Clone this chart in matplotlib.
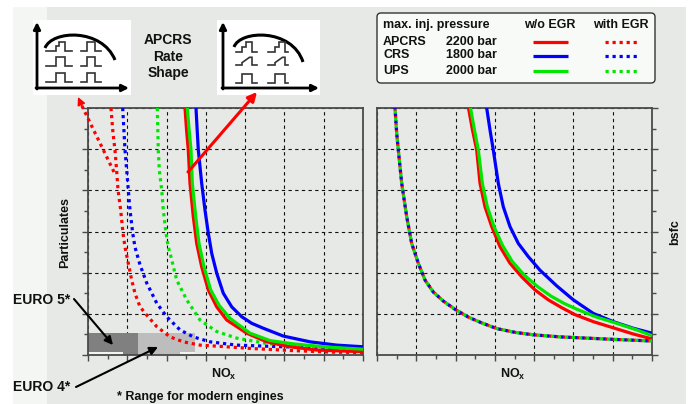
import matplotlib
matplotlib.use('Agg')
import matplotlib.pyplot as plt
from matplotlib.patches import Rectangle, FancyBboxPatch, PathPatch
from matplotlib.path import Path
import numpy as np

plt.rcParams['font.family'] = ['Liberation Sans', 'DejaVu Sans']
plt.rcParams['mathtext.fontset'] = 'custom'
plt.rcParams['mathtext.rm'] = 'Liberation Sans'
plt.rcParams['mathtext.bf'] = 'Liberation Sans:bold'
plt.rcParams['mathtext.it'] = 'Liberation Sans:italic'

# ---------------- data (grid units: NOx 0..7, response 0..6) ----------------
systems = ['APCRS', 'CRS', 'UPS']
pressures = ['2200 bar', '1800 bar', '2000 bar']
colors = ['#ff0000', '#0000ff', '#00e600']

# Particulates vs NOx, without EGR (solid)
pm_apcrs_x = [2.469, 2.51, 2.553, 2.596, 2.680, 2.767, 2.894, 3.062, 3.276, 3.531, 4.040, 4.549, 5.142, 5.821, 7.0]
pm_apcrs_y = [6.0, 5.45, 4.98, 4.17, 3.36, 2.71, 2.14, 1.58, 1.17, 0.85, 0.53, 0.32, 0.20, 0.12, 0.08]
pm_crs_x = [2.749, 2.78, 2.808, 2.894, 2.978, 3.062, 3.149, 3.276, 3.444, 3.658, 3.912, 4.167, 4.462, 4.971,
            5.651, 6.331, 7.0]
pm_crs_y = [6.0, 5.45, 4.98, 4.17, 3.52, 2.96, 2.47, 1.99, 1.50, 1.17, 0.93, 0.77, 0.65, 0.46,
            0.32, 0.24, 0.20]
pm_ups_x = [2.528, 2.575, 2.622, 2.655, 2.742, 2.825, 2.953, 3.123, 3.335, 3.615, 4.124, 4.633, 5.226, 5.99, 7.0]
pm_ups_y = [6.0, 5.45, 4.98, 4.17, 3.36, 2.71, 2.14, 1.58, 1.21, 0.89, 0.53, 0.35, 0.27, 0.20, 0.14]

# Particulates vs NOx, with EGR (dotted)
pm_apcrs_egr_x = [0.585, 0.636, 0.687, 0.731, 0.764, 0.832, 0.891, 0.942, 1.112, 1.196, 1.324, 1.494, 1.749,
                  2.087, 2.426, 2.851, 3.36, 4.124, 5.142, 6.16, 7.0]
pm_apcrs_egr_y = [6.0, 5.39, 4.98, 4.45, 4.01, 3.52, 2.96, 2.62, 1.82, 1.50, 1.17, 0.97, 0.69,
                  0.44, 0.32, 0.24, 0.21, 0.16, 0.11, 0.07, 0.06]
pm_crs_egr_x = [0.883, 0.942, 0.985, 1.026, 1.069, 1.138, 1.196, 1.324, 1.494, 1.749, 2.003, 2.342, 2.68,
                3.105, 3.785, 4.971, 7.0]
pm_crs_egr_y = [6.0, 4.98, 4.49, 4.01, 3.52, 2.96, 2.62, 2.19, 1.75, 1.26, 0.93, 0.61, 0.44,
                0.32, 0.24, 0.20, 0.16]
pm_ups_egr_x = [1.764, 1.789, 1.815, 1.876, 1.917, 1.985, 2.044, 2.087, 2.258, 2.512, 2.851, 3.276, 3.785,
                4.549, 5.651, 7.0]
pm_ups_egr_y = [6.0, 4.98, 4.49, 4.01, 3.52, 2.96, 2.62, 2.48, 1.82, 1.34, 0.85, 0.57, 0.41,
                0.28, 0.21, 0.17]

# bsfc vs NOx, without EGR (solid)
bs_apcrs_x = [2.329, 2.43, 2.538, 2.622, 2.749, 2.920, 3.131, 3.385, 3.683, 4.022, 4.360, 4.701, 5.040,
              5.506, 6.015, 6.524, 7.0]
bs_apcrs_y = [6.0, 5.47, 4.98, 4.17, 3.60, 3.12, 2.63, 2.23, 1.90, 1.58, 1.34, 1.15, 0.98,
              0.81, 0.66, 0.51, 0.39]
bs_crs_x = [2.792, 2.876, 2.960, 3.088, 3.215, 3.385, 3.597, 3.851, 4.149, 4.574, 4.997, 5.506, 6.015,
            6.524, 7.0]
bs_crs_y = [6.0, 5.47, 4.98, 4.17, 3.60, 3.12, 2.71, 2.39, 2.06, 1.68, 1.34, 1.01, 0.81,
            0.65, 0.53]
bs_ups_x = [2.38, 2.48, 2.579, 2.681, 2.808, 2.978, 3.190, 3.444, 3.750, 4.090, 4.429, 4.768, 5.091,
            5.592, 6.101, 6.610, 7.0]
bs_ups_y = [6.0, 5.47, 4.98, 4.17, 3.60, 3.12, 2.67, 2.27, 1.94, 1.66, 1.43, 1.25, 1.11,
            0.92, 0.77, 0.61, 0.47]

# bsfc vs NOx, with EGR (dotted, all three systems coincide)
bs_egr_x = [0.458, 0.501, 0.542, 0.629, 0.756, 0.883, 1.051, 1.222, 1.433, 1.688, 1.985, 2.324, 2.665,
            3.055, 3.513, 3.979, 4.658, 5.338, 6.015, 7.0]
bs_egr_y = [6.0, 5.39, 4.98, 4.17, 3.36, 2.71, 2.23, 1.82, 1.53, 1.31, 1.11, 0.92, 0.78,
            0.64, 0.55, 0.49, 0.44, 0.41, 0.38, 0.34]

# emission limit ranges
euro5_nox = [0.0, 1.27]
euro5_pm = [0.07, 0.53]
euro5_tail_nox = [0.89, 1.27]
euro4_nox = [1.27, 2.72]
euro4_pm = [0.07, 0.53]
euro4_tail_nox = [1.27, 2.34]
tail_pm = [0.0, 0.07]

# ---------------- figure ----------------
W, H = 688, 404
fig = plt.figure(figsize=(W / 100, H / 100), dpi=100)
fig.patch.set_facecolor('white')

bg = fig.add_axes([0, 0, 1, 1], zorder=0)
bg.set_xlim(0, W); bg.set_ylim(H, 0); bg.axis('off')
bg.add_patch(Rectangle((13, 7), 673, 397, facecolor='#e6e9e6', edgecolor='none'))
bg.add_patch(Rectangle((13, 7), 34, 397, facecolor='#f3f6f3', edgecolor='none'))

GRID = dict(color='#111111', linestyle=(0, (3, 3)), linewidth=0.8)
SPINE = '#4a4a4a'


def setup(ax, right_side):
    ax.set_facecolor('none')
    ax.set_xlim(0, 7); ax.set_ylim(0, 6)
    ax.set_xticks(range(8)); ax.set_yticks(range(7))
    ax.set_xticks(np.arange(0.5, 7, 1), minor=True)
    ax.set_yticks(np.arange(0.5, 6, 1), minor=True)
    ax.tick_params(which='both', direction='out', labelbottom=False, labelleft=False,
                   labelright=False, bottom=True, top=False,
                   left=not right_side, right=right_side, color=SPINE, width=1)
    ax.tick_params(which='major', length=4)
    ax.tick_params(which='minor', length=3)
    ax.grid(True, which='major', **GRID)
    ax.set_axisbelow(True)
    for s in ax.spines.values():
        s.set_color(SPINE); s.set_linewidth(1.3)


axL = fig.add_axes([88 / W, (H - 355) / H, 275 / W, 247 / H], zorder=1)
axR = fig.add_axes([377 / W, (H - 355) / H, 275 / W, 247 / H], zorder=1)
setup(axL, False)
setup(axR, True)

# limit boxes
axL.bar(euro5_nox[0], euro5_pm[1] - euro5_pm[0], width=euro5_nox[1] - euro5_nox[0], bottom=euro5_pm[0],
        align='edge', color='#808080', zorder=1.5)
axL.bar(euro5_tail_nox[0], tail_pm[1] - tail_pm[0], width=euro5_tail_nox[1] - euro5_tail_nox[0],
        bottom=tail_pm[0], align='edge', color='#808080', zorder=1.5)
axL.bar(euro5_nox[0], tail_pm[1] - tail_pm[0], width=euro5_tail_nox[0] - euro5_nox[0],
        bottom=tail_pm[0], align='edge', color='#f2f4f2', zorder=1.5)
axL.bar(euro4_nox[0], euro4_pm[1] - euro4_pm[0], width=euro4_nox[1] - euro4_nox[0], bottom=euro4_pm[0],
        align='edge', color='#bdbdbd', zorder=1.5)
axL.bar(euro4_tail_nox[0], tail_pm[1] - tail_pm[0], width=euro4_tail_nox[1] - euro4_tail_nox[0],
        bottom=tail_pm[0], align='edge', color='#bdbdbd', zorder=1.5)
axL.bar(euro4_tail_nox[1], tail_pm[1] - tail_pm[0], width=euro4_nox[1] - euro4_tail_nox[1],
        bottom=tail_pm[0], align='edge', color='#f2f4f2', zorder=1.5)

SOLID = dict(linewidth=2.3, solid_capstyle='butt', solid_joinstyle='round', zorder=3)


def dotted(off):
    return dict(linewidth=2.3, linestyle=(off, (1, 1.2)), dash_capstyle='butt', zorder=3)


# left panel
axL.plot(pm_apcrs_egr_x, pm_apcrs_egr_y, color=colors[0], **dotted(0))
axL.plot(pm_crs_egr_x, pm_crs_egr_y, color=colors[1], **dotted(0))
axL.plot(pm_ups_egr_x, pm_ups_egr_y, color=colors[2], **dotted(0))
axL.plot(pm_crs_x, pm_crs_y, color=colors[1], **SOLID)
axL.plot(pm_apcrs_x, pm_apcrs_y, color=colors[0], **SOLID)
axL.plot(pm_ups_x, pm_ups_y, color=colors[2], **SOLID)

# right panel
axR.plot(bs_crs_x, bs_crs_y, color=colors[1], **SOLID)
axR.plot(bs_apcrs_x, bs_apcrs_y, color=colors[0], **SOLID)
axR.plot(bs_ups_x, bs_ups_y, color=colors[2], **SOLID)
axR.plot(bs_egr_x, bs_egr_y, color=colors[0], **dotted(0))
axR.plot(bs_egr_x, bs_egr_y, color=colors[1], **dotted(0.7))
axR.plot(bs_egr_x, bs_egr_y, color=colors[2], **dotted(1.4))

# ---------------- overlay (pixel coordinates) ----------------
ov = fig.add_axes([0, 0, 1, 1], zorder=5)
ov.set_xlim(0, W); ov.set_ylim(H, 0); ov.axis('off'); ov.patch.set_alpha(0)

TXT = dict(color='#111111', fontweight='bold')

ov.text(65, 232, 'Particulates', rotation=90, ha='center', va='center', fontsize=9, **TXT)
ov.text(675, 232, 'bsfc', rotation=90, ha='center', va='center', fontsize=9, **TXT)
ov.text(224, 374, r'$\mathbf{NO}_{\mathbf{x}}$', ha='center', va='center', fontsize=9, color='#111111')
ov.text(513, 374, r'$\mathbf{NO}_{\mathbf{x}}$', ha='center', va='center', fontsize=9, color='#111111')
ov.text(13, 300, 'EURO 5*', ha='left', va='center', fontsize=10, **TXT)
ov.text(13, 387, 'EURO 4*', ha='left', va='center', fontsize=10, **TXT)
ov.text(117, 397, '* Range for modern engines', ha='left', va='center', fontsize=9, **TXT)

BLK = dict(arrowstyle='-|>', color='black', lw=1.5, mutation_scale=12, shrinkA=0, shrinkB=0)
ov.annotate('', xy=(113, 345), xytext=(74, 299), arrowprops=BLK)
ov.annotate('', xy=(158, 347), xytext=(76, 387), arrowprops=BLK)

# red arrows
ov.annotate('', xy=(257, 92), xytext=(188, 172),
            arrowprops=dict(arrowstyle='-|>', color='#ff0000', lw=2.2, mutation_scale=13, shrinkA=0, shrinkB=0))
ov.plot([114, 81], [172, 104], color='#ff0000', linewidth=2.3, linestyle=(0, (1, 1.2)))
ov.annotate('', xy=(78, 97), xytext=(82, 106),
            arrowprops=dict(arrowstyle='-|>', color='#ff0000', lw=1.0, mutation_scale=12, shrinkA=0, shrinkB=0))


# icons
def pulse(x0, x1, p0, p1, yb, yt, kind):
    if kind == 'boot':
        m = p0 + 0.37 * (p1 - p0); ym = (yb + yt) / 2
        xs = [x0, p0, p0, m, m, p1, p1, x1]; ys = [yb, yb, ym, ym, yt, yt, yb, yb]
    elif kind == 'ramp':
        m = p0 + 0.75 * (p1 - p0); ym = yb - 0.3 * (yb - yt)
        xs = [x0, p0, p0, m, p1, p1, x1]; ys = [yb, yb, ym, yt, yt, yb, yb]
    else:
        xs = [x0, p0, p0, p1, p1, x1]; ys = [yb, yb, yt, yt, yb, yb]
    ov.plot(xs, ys, color='#333333', linewidth=1.2, solid_joinstyle='miter')


def icon(box, ax_x, ax_y, x_end, y_top, bez, cols, rows, kinds):
    ov.add_patch(Rectangle((box[0], box[1]), box[2], box[3], facecolor='white', edgecolor='none'))
    arr = dict(arrowstyle='-|>', color='black', lw=2.0, mutation_scale=10, shrinkA=0, shrinkB=0)
    ov.annotate('', xy=(ax_x, y_top), xytext=(ax_x, ax_y + 1), arrowprops=arr)
    ov.annotate('', xy=(x_end, ax_y), xytext=(ax_x - 1, ax_y), arrowprops=arr)
    path = Path(bez, [Path.MOVETO, Path.CURVE4, Path.CURVE4, Path.CURVE4])
    ov.add_patch(PathPatch(path, facecolor='none', edgecolor='black', lw=2.2))
    for r, (yb, yt) in enumerate(rows):
        for c, (x0, x1, p0, p1) in enumerate(cols):
            pulse(x0, x1, p0, p1, yb, yt, kinds[r][c])


icon((33, 20, 98, 75), 37, 88, 129, 22,
     [(45, 48), (52, 30), (102, 28), (115, 60)],
     [(46, 72, 56, 65), (81, 101, 87, 95)],
     [(50.7, 41.7), (66, 57.3), (81.7, 73.3)],
     [['boot', 'rect'], ['rect', 'rect'], ['rect', 'rect']])
icon((217, 20, 103, 75), 223, 88, 319, 22,
     [(234, 47), (240, 30), (292, 28), (303, 62)],
     [(236, 257, 242, 252), (268, 288, 275, 285)],
     [(51.7, 41.7), (65, 57.3), (82.7, 74)],
     [['boot', 'boot'], ['ramp', 'ramp'], ['rect', 'rect']])

ov.text(168, 40, 'APCRS', ha='center', va='center', fontsize=10, **TXT)
ov.text(168, 57, 'Rate', ha='center', va='center', fontsize=10, **TXT)
ov.text(168, 73, 'Shape', ha='center', va='center', fontsize=10, **TXT)

# legend
ov.add_patch(FancyBboxPatch((377, 13), 278, 70, boxstyle='round,pad=0,rounding_size=4',
                            facecolor='#f7faf7', edgecolor='#333333', linewidth=1.0))
ov.text(383, 25, 'max. inj. pressure', ha='left', va='center', fontsize=9, **TXT)
ov.text(550, 25, 'w/o EGR', ha='center', va='center', fontsize=9, **TXT)
ov.text(621, 25, 'with EGR', ha='center', va='center', fontsize=9, **TXT)
row_y = [42, 55.5, 70.5]
for name, pres, col, yy in zip(systems, pressures, colors, row_y):
    ov.text(383, yy, name, ha='left', va='center', fontsize=9, **TXT)
    ov.text(497, yy, pres, ha='right', va='center', fontsize=9, **TXT)
    ov.plot([533, 568], [yy, yy], color=col, linewidth=2.3, solid_capstyle='butt')
    ov.plot([605, 640], [yy, yy], color=col, linewidth=2.3, linestyle=(0, (1, 1.2)))

fig.savefig('out.png', dpi=100, facecolor='white')
